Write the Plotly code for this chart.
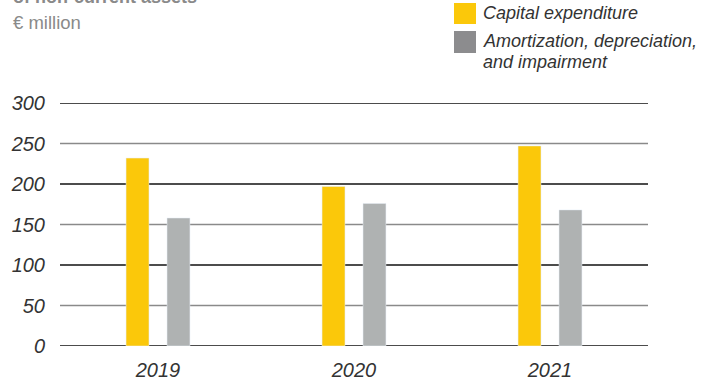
import plotly.graph_objects as go

years = ["2019", "2020", "2021"]
capex = [232, 197, 247]
amort = [158, 176, 168]
series_names = ["Capital expenditure", "Amortization, depreciation,<br>and impairment"]
y_ticks = [0, 50, 100, 150, 200, 250, 300]
title_text = "of non-current assets"
unit_text = "€ million"

YELLOW = "#fbc80a"
GRAY_BAR = "#afb2b2"
GRAY_LEG = "#8c8c8e"

W, H = 705, 381
ML, MR, MT, MB = 60, 57, 103, 35
PH = H - MT - MB


def py(pix):
    return (H - MB - pix) / PH


def px(pix):
    return (pix - ML) / (W - ML - MR)


fig = go.Figure()
fig.add_bar(x=years, y=capex, name=series_names[0], marker_color=YELLOW,
            width=0.117, offset=-0.163, showlegend=False)
fig.add_bar(x=years, y=amort, name=series_names[1], marker_color=GRAY_BAR,
            width=0.117, offset=0.046, showlegend=False)

shapes = []
for i, t in enumerate(y_ticks):
    black = (t % 100 == 0)
    shapes.append(dict(type="line", xref="paper", yref="y", x0=0, x1=1, y0=t, y1=t,
                       layer="below",
                       line=dict(color="#111111" if black else "#8a8a8a",
                                 width=1.3 if black else 1.7)))
# legend swatches
shapes.append(dict(type="rect", xref="paper", yref="paper", x0=px(454), x1=px(476),
                   y0=py(24), y1=py(3), fillcolor=YELLOW, line_width=0))
shapes.append(dict(type="rect", xref="paper", yref="paper", x0=px(454), x1=px(476),
                   y0=py(53), y1=py(31), fillcolor=GRAY_LEG, line_width=0))

annotations = [
    dict(text="<b>" + title_text + "</b>", xref="paper", yref="paper", x=px(11), y=py(-3),
         xanchor="left", yanchor="middle", showarrow=False,
         font=dict(size=18, color="#8a8a8a", family="Liberation Sans")),
    dict(text=unit_text, xref="paper", yref="paper", x=px(11), y=py(23),
         xanchor="left", yanchor="middle", showarrow=False,
         font=dict(size=18.5, color="#8a8a8a", family="Liberation Sans")),
    dict(text="<i>" + series_names[0] + "</i>", xref="paper", yref="paper", x=px(481), y=py(13),
         xanchor="left", yanchor="middle", showarrow=False,
         font=dict(size=18, color="#333333", family="Liberation Sans")),
]
for j, line in enumerate(series_names[1].split("<br>")):
    annotations.append(dict(text="<i>" + line + "</i>", xref="paper", yref="paper",
                            x=px(481), y=py(41 + 21 * j), xanchor="left", yanchor="middle",
                            showarrow=False,
                            font=dict(size=18, color="#333333", family="Liberation Sans")))

fig.update_layout(
    width=W, height=H,
    margin=dict(l=ML, r=MR, t=MT, b=MB, pad=0, autoexpand=False),
    paper_bgcolor="white", plot_bgcolor="white",
    shapes=shapes, annotations=annotations,
    showlegend=False,
    xaxis=dict(range=[-0.5, 2.5], showgrid=False, zeroline=False, showline=False,
               automargin=False, ticks="", ticklabelstandoff=10,
               tickfont=dict(size=20, color="#333333", family="Liberation Sans", style="italic")),
    yaxis=dict(range=[0, 300], tickvals=y_ticks, showgrid=False, zeroline=False,
               showline=False, automargin=False, ticks="", ticklabelstandoff=14,
               tickfont=dict(size=20, color="#333333", family="Liberation Sans", style="italic")),
)

fig.write_html("out.html")
